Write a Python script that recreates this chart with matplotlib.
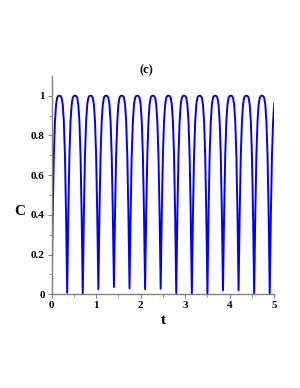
import numpy as np
import matplotlib.pyplot as plt

t = np.linspace(0, 5, 201)
C = [
    0.000, 0.40, 0.70, 0.87, 0.955, 0.99, 0.999, 1.000, 0.999, 0.99, 0.955, 0.87, 0.70, 0.40,
    0.008, 0.40, 0.70, 0.87, 0.955, 0.99, 0.999, 1.000, 0.999, 0.99, 0.955, 0.87, 0.70, 0.40,
    0.000, 0.40, 0.70, 0.87, 0.955, 0.99, 0.999, 1.000, 0.999, 0.99, 0.955, 0.87, 0.70, 0.40,
    0.025, 0.41, 0.70, 0.87, 0.955, 0.99, 0.999, 1.000, 0.999, 0.99, 0.955, 0.87, 0.70, 0.41,
    0.037, 0.41, 0.70, 0.87, 0.955, 0.99, 0.999, 1.000, 0.999, 0.99, 0.955, 0.87, 0.70, 0.41,
    0.030, 0.41, 0.70, 0.87, 0.955, 0.99, 0.999, 1.000, 0.999, 0.99, 0.955, 0.87, 0.70, 0.41,
    0.025, 0.41, 0.70, 0.87, 0.955, 0.99, 0.999, 1.000, 0.999, 0.99, 0.955, 0.87, 0.70, 0.41,
    0.028, 0.41, 0.70, 0.87, 0.955, 0.99, 0.999, 1.000, 0.999, 0.99, 0.955, 0.87, 0.70, 0.40,
    0.003, 0.40, 0.70, 0.87, 0.955, 0.99, 0.999, 1.000, 0.999, 0.99, 0.955, 0.87, 0.70, 0.40,
    0.000, 0.40, 0.70, 0.87, 0.955, 0.99, 0.999, 1.000, 0.999, 0.99, 0.955, 0.87, 0.70, 0.40,
    0.000, 0.40, 0.70, 0.87, 0.955, 0.99, 0.999, 1.000, 0.999, 0.99, 0.955, 0.87, 0.70, 0.40,
    0.020, 0.41, 0.70, 0.87, 0.955, 0.99, 0.999, 1.000, 0.999, 0.99, 0.955, 0.87, 0.70, 0.41,
    0.020, 0.41, 0.70, 0.87, 0.955, 0.99, 0.999, 1.000, 0.999, 0.99, 0.955, 0.87, 0.70, 0.40,
    0.000, 0.40, 0.70, 0.87, 0.955, 0.99, 0.999, 1.000, 0.999, 0.99, 0.955, 0.87, 0.70, 0.40,
    0.000, 0.40, 0.70, 0.87, 0.960,
]
xticks = [0, 1, 2, 3, 4, 5]
yticks = [0, 0.2, 0.4, 0.6, 0.8, 1]
ytick_labels = ["0", "0.2", "0.4", "0.6", "0.8", "1"]

plt.rcParams['font.family'] = ['Liberation Serif', 'DejaVu Serif']

fig = plt.figure(figsize=(3.0, 3.88), dpi=100)
ax = fig.add_axes([0.172, 0.2415, 0.742, 0.563])

ax.plot(t, C, color=(0, 0, 1), lw=1.4, solid_joinstyle='round')

ax.set_xlim(0, 5)
ax.set_ylim(0, 1.1)

# maple-like axes: only left/bottom, grey lines
for s in ['top', 'right']:
    ax.spines[s].set_visible(False)
for s in ['left', 'bottom']:
    ax.spines[s].set_color('#808080')
    ax.spines[s].set_linewidth(1.0)

ax.set_xticks(xticks)
ax.set_xticklabels([str(v) for v in xticks])
ax.set_yticks(yticks)
ax.set_yticklabels(ytick_labels)
ax.set_xticks(np.arange(0.5, 5, 1), minor=True)
ax.set_yticks(np.arange(0.1, 1.1, 0.2), minor=True)
ax.tick_params(which='major', direction='out', length=3, width=0.8, color='#808080',
               labelsize=8, pad=2)
ax.tick_params(which='minor', direction='out', length=2, width=0.6, color='#808080')
for lab in ax.get_xticklabels() + ax.get_yticklabels():
    lab.set_fontweight('bold')

fig.text(146 / 300, 1 - 70 / 388, "(c)", ha='center', va='center', fontsize=9, fontweight='bold')
fig.text(20 / 300, 1 - 212 / 388, "C", ha='center', va='center', fontsize=11, fontweight='bold')
fig.text(163 / 300, 1 - 320 / 388, "t", ha='center', va='center', fontsize=11, fontweight='bold')

plt.savefig("out.png", dpi=100)
